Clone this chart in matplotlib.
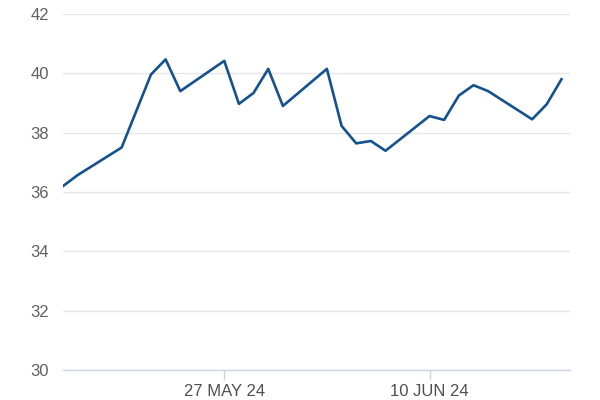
import matplotlib.pyplot as plt
import numpy as np

plt.rcParams['font.family'] = ['Liberation Sans', 'DejaVu Sans']

# daily closes (trading days only)
dates = np.array([
    "2024-05-16", "2024-05-17", "2024-05-20", "2024-05-22", "2024-05-23",
    "2024-05-24", "2024-05-27", "2024-05-28", "2024-05-29", "2024-05-30",
    "2024-05-31", "2024-06-03", "2024-06-04", "2024-06-05", "2024-06-06",
    "2024-06-07", "2024-06-10", "2024-06-11", "2024-06-12", "2024-06-13",
    "2024-06-14", "2024-06-17", "2024-06-18", "2024-06-19",
], dtype="datetime64[D]")
prices = [
    36.20, 36.57, 37.50, 39.96, 40.47,
    39.40, 40.42, 38.97, 39.34, 40.15,
    38.90, 40.15, 38.23, 37.64, 37.72,
    37.39, 38.56, 38.43, 39.25, 39.60,
    39.40, 38.45, 38.96, 39.80,
]
y_ticks = [30, 32, 34, 36, 38, 40, 42]
x_ticks = np.array(["2024-05-27", "2024-06-10"], dtype="datetime64[D]")
x_labels = ["27 MAY 24", "10 JUN 24"]

fig = plt.figure(figsize=(6, 4), dpi=100)
ax = fig.add_axes([0.105, 0.075, 0.845, 0.89])

ax.plot(dates, prices, color="#14528f", linewidth=1.9)

ax.set_ylim(30, 42)
ax.set_xlim(np.datetime64("2024-05-16"), np.datetime64("2024-06-19") + np.timedelta64(14, "h"))
ax.set_yticks(y_ticks)
ax.set_yticklabels([str(v) for v in y_ticks])
ax.set_xticks(x_ticks)
ax.set_xticklabels(x_labels)

ax.grid(axis="y", color="#e6e6e6", linewidth=1)
ax.set_axisbelow(True)
for s in ["top", "right", "left"]:
    ax.spines[s].set_visible(False)
ax.spines["bottom"].set_color("#ccd6eb")
ax.spines["bottom"].set_linewidth(1)

ax.tick_params(axis="y", length=0, pad=10, labelsize=12, labelcolor="#606060")
ax.tick_params(axis="x", length=7, width=1, color="#ccd6eb", pad=3,
               labelsize=12, labelcolor="#505050")

plt.savefig("out.png", dpi=100)
